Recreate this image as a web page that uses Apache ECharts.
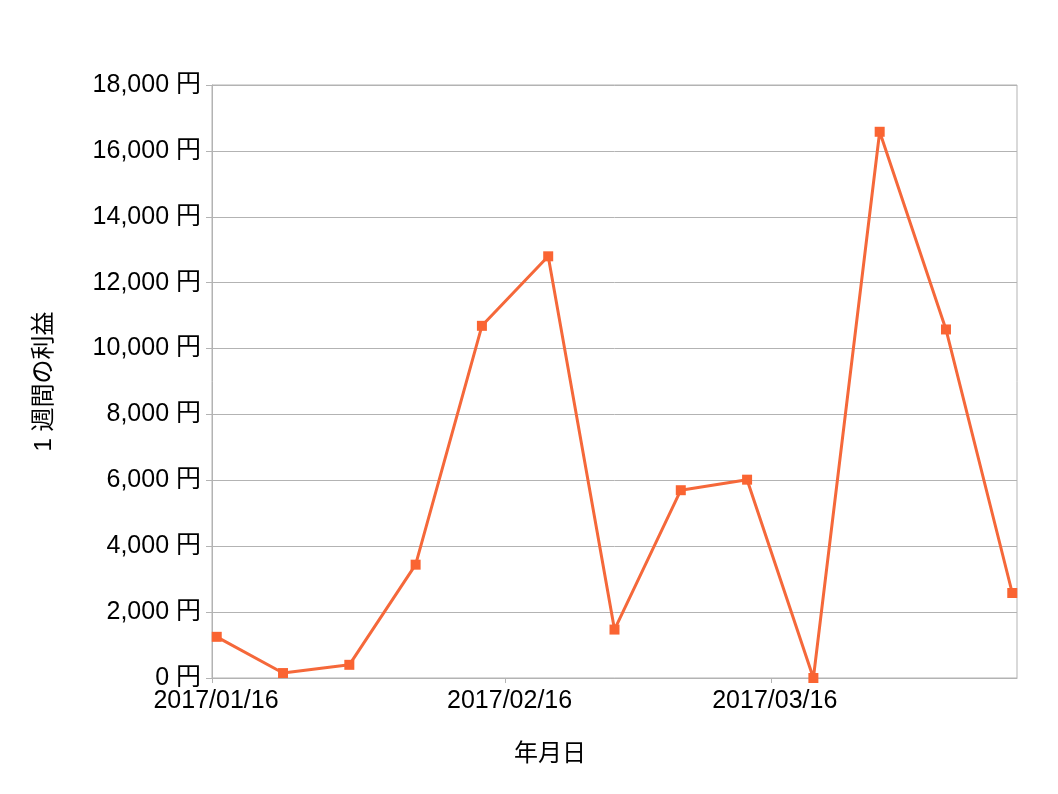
<!DOCTYPE html>
<html>
<head>
<meta charset="utf-8">
<script src="https://cdn.jsdelivr.net/npm/echarts@6/dist/echarts.min.js"></script>
<style>
html,body{margin:0;padding:0;background:#fff;}
#chart{width:1058px;height:794px;}
</style>
</head>
<body>
<div id="chart"></div>
<script>
// Weekly data points (each plotted at midday of the date)
const dates = ['2017-01-16 12:00','2017-01-23 12:00','2017-01-30 12:00','2017-02-06 12:00','2017-02-13 12:00','2017-02-20 12:00','2017-02-27 12:00','2017-03-06 12:00','2017-03-13 12:00','2017-03-20 12:00','2017-03-27 12:00','2017-04-03 12:00','2017-04-10 12:00'];
const profits = [1250, 150, 400, 3440, 10690, 12800, 1470, 5700, 6020, 0, 16580, 10580, 2580];
const xTickDates = ['2017-01-16','2017-02-16','2017-03-16'];
const xRange = ['2017-01-16','2017-04-11'];
const yTicks = [0, 2000, 4000, 6000, 8000, 10000, 12000, 14000, 16000, 18000];

const FONT = "'Liberation Sans', 'Noto Sans CJK JP', sans-serif";
const ts = s => echarts.time.parse(s).getTime();
const chart = echarts.init(document.getElementById('chart'), null, {renderer:'canvas'});
const option = {
  animation: false,
  backgroundColor: '#ffffff',
  grid: {left: 212, right: 41, top: 85, bottom: 116, show: true, borderColor: '#b3b3b3', borderWidth: 1, backgroundColor: 'transparent'},
  xAxis: {
    type: 'value',
    scale: true,
    min: ts(xRange[0]),
    max: ts(xRange[1]),
    name: '年月日',
    nameLocation: 'middle',
    nameGap: 64,
    nameTextStyle: {fontFamily: FONT, fontSize: 24, color: '#000', padding: [0, 129, 0, 0]},
    axisLine: {show: true, lineStyle: {color: '#b3b3b3', width: 1}},
    axisTick: {show: true, length: 5, lineStyle: {color: '#b3b3b3'}, customValues: xTickDates.map(ts)},
    axisLabel: {
      show: true, fontFamily: FONT, fontSize: 25, color: '#000', margin: 11,
      padding: [0, 0, 0, 8],
      customValues: xTickDates.map(ts),
      formatter: v => echarts.time.format(v, '{yyyy}/{MM}/{dd}', false),
      hideOverlap: false
    },
    splitLine: {show: false}
  },
  yAxis: {
    type: 'value',
    min: yTicks[0],
    max: yTicks[yTicks.length - 1],
    interval: 2000,
    name: '1 週間の利益',
    nameLocation: 'middle',
    nameGap: 156,
    nameRotate: 90,
    nameTextStyle: {fontFamily: FONT, fontSize: 24, color: '#000'},
    axisLine: {show: true, lineStyle: {color: '#b3b3b3', width: 1}},
    axisTick: {show: true, length: 6, lineStyle: {color: '#b3b3b3'}},
    axisLabel: {
      fontFamily: FONT, fontSize: 25, color: '#000', margin: 11,
      formatter: v => v.toLocaleString('en-US') + ' 円'
    },
    splitLine: {show: true, lineStyle: {color: '#b3b3b3', width: 1}}
  },
  series: [{
    type: 'line',
    data: dates.map((d, i) => [ts(d), profits[i]]),
    symbol: 'rect',
    symbolSize: 10,
    showAllSymbol: true,
    lineStyle: {color: '#f5683a', width: 3},
    itemStyle: {color: '#fa6432'}
  }]
};
chart.setOption(option);
</script>
</body>
</html>
